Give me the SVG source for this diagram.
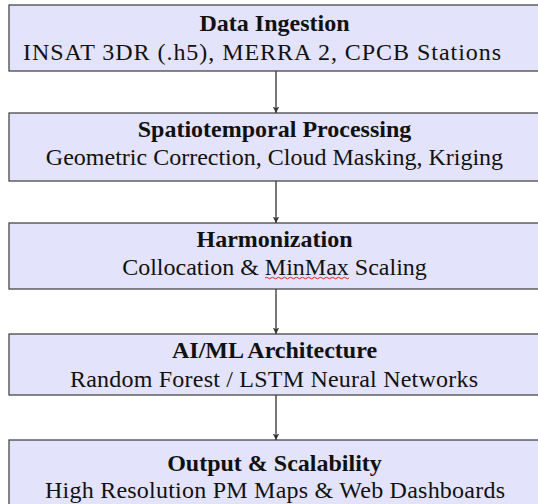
<svg xmlns="http://www.w3.org/2000/svg" width="538" height="504" viewBox="0 0 538 504">
  <style>
    .box { fill: #e3e3fb; stroke: #3a3a3a; stroke-width: 1.2; }
    .title { font-family: "Liberation Serif", "Times New Roman", serif; font-size: 24px; font-weight: bold; fill: #111; text-anchor: middle; }
    .sub { font-family: "Liberation Serif", "Times New Roman", serif; font-size: 24px; fill: #111; text-anchor: middle; }
    .sub-left { font-family: "Liberation Serif", "Times New Roman", serif; font-size: 24px; fill: #111; text-anchor: start; }
    .link { stroke: #333; stroke-width: 1.3; fill: none; }
    .squiggle { stroke: #e02020; stroke-width: 1; fill: none; }
  </style>
  <defs>
    <marker id="arrow" viewBox="0 0 10 10" refX="10" refY="5" markerWidth="5" markerHeight="5" markerUnits="strokeWidth" orient="auto">
      <path d="M0,0 L10,5 L0,10 L2.5,5 Z" fill="#333"/>
    </marker>
  </defs>
  <rect width="538" height="504" fill="#ffffff"/>

  <g id="connectors">
    <line class="link" x1="276" y1="71" x2="276" y2="113" marker-end="url(#arrow)"/>
    <line class="link" x1="276" y1="181" x2="276" y2="223" marker-end="url(#arrow)"/>
    <line class="link" x1="276" y1="289" x2="276" y2="334" marker-end="url(#arrow)"/>
    <line class="link" x1="276" y1="395" x2="276" y2="440" marker-end="url(#arrow)"/>
  </g>

  <g id="data-ingestion">
    <rect class="box" x="9" y="5" width="540" height="66"/>
    <text class="title" x="274.5" y="31">Data Ingestion</text>
    <text class="sub-left" x="23" y="60" textLength="478" lengthAdjust="spacing">INSAT 3DR (.h5), MERRA 2, CPCB Stations</text>
  </g>

  <g id="spatiotemporal-processing">
    <rect class="box" x="9" y="113" width="540" height="68"/>
    <text class="title" x="274.5" y="137">Spatiotemporal Processing</text>
    <text class="sub" x="274.5" y="165">Geometric Correction, Cloud Masking, Kriging</text>
  </g>

  <g id="harmonization">
    <rect class="box" x="9" y="223" width="540" height="66"/>
    <text class="title" x="274.5" y="247">Harmonization</text>
    <text class="sub" x="274.5" y="275">Collocation &amp; MinMax Scaling</text>
    <path class="squiggle" d="M265,278 q1.5,-1.5 3,0 t3,0 t3,0 t3,0 t3,0 t3,0 t3,0 t3,0 t3,0 t3,0 t3,0 t3,0 t3,0 t3,0 t3,0 t3,0 t3,0 t3,0 t3,0 t3,0 t3,0 t3,0 t3,0 t3,0 t3,0 t3,0 t3,0 t3,0"/>
  </g>

  <g id="ai-ml-architecture">
    <rect class="box" x="9" y="334" width="540" height="61"/>
    <text class="title" x="274.5" y="358">AI/ML Architecture</text>
    <text class="sub-left" x="70" y="387" textLength="408" lengthAdjust="spacing">Random Forest / LSTM Neural Networks</text>
  </g>

  <g id="output-scalability">
    <rect class="box" x="9" y="440" width="540" height="75"/>
    <text class="title" x="274.5" y="471">Output &amp; Scalability</text>
    <text class="sub-left" x="45" y="497.5" textLength="460" lengthAdjust="spacing">High Resolution PM Maps &amp; Web Dashboards</text>
  </g>
</svg>
